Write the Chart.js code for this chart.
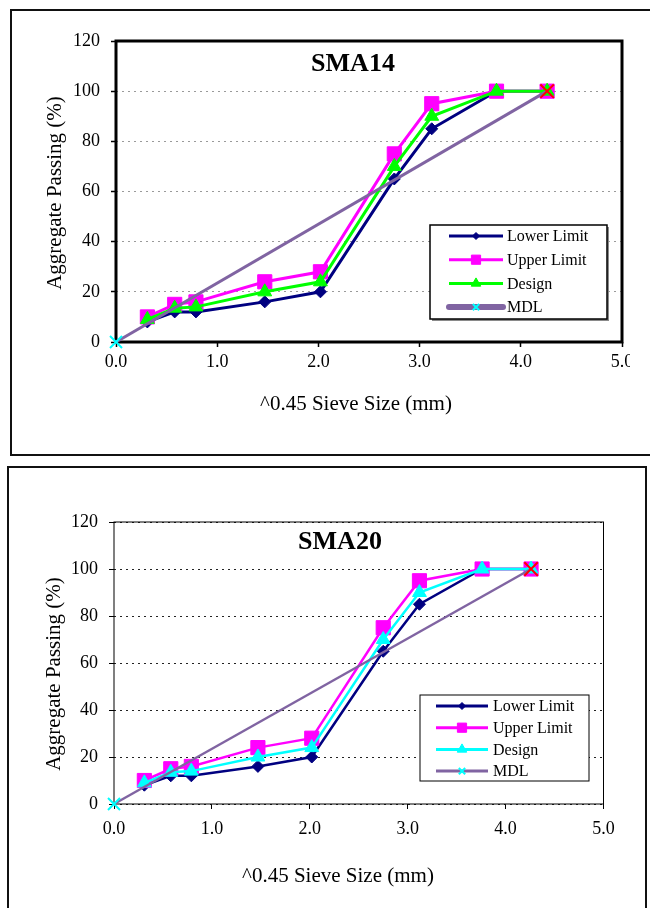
<!DOCTYPE html>
<html>
<head>
<meta charset="utf-8">
<script src="https://cdn.jsdelivr.net/npm/chart.js@4.4.0/dist/chart.umd.min.js"></script>
<style>
  html, body { margin: 0; padding: 0; background: #fff; overflow: hidden; }
  body { width: 650px; height: 908px; position: relative; }
  .frame { position: absolute; border: 2px solid #111; box-sizing: border-box; }
  #frame1 { left: 10px; top: 9px; width: 700px; height: 447px; }
  #frame2 { left: 7px; top: 466px; width: 640px; height: 470px; }
  canvas { position: absolute; left: 0; }
  #c1 { top: 0; }
  #c2 { top: 460px; }
  /* the source picture is cropped just past the right edge of the top plot */
  #crop1 { position: absolute; left: 630px; top: 12px; width: 30px; height: 441px; background: #fff; }
</style>
</head>
<body>
<div class="frame" id="frame1"></div>
<div class="frame" id="frame2"></div>
<canvas id="c1" width="640" height="455"></canvas>
<canvas id="c2" width="650" height="448"></canvas>
<div id="crop1"></div>
<script>
// sieve sizes raised to the 0.45 power
const sieveX = [0.31, 0.58, 0.79, 1.47, 2.02, 2.75, 3.12, 3.76, 4.26];
const lowerLimit = [8, 12, 12, 16, 20, 65, 85, 100, 100];
const upperLimit = [10, 15, 16, 24, 28, 75, 95, 100, 100];
const designGrading = [9, 13.5, 14, 20, 24, 70, 90, 100, 100];
// maximum density line, origin to nominal max size
const mdlX = [0, 4.26];
const mdlY = [0, 100];

const xTickValues = [0, 1, 2, 3, 4, 5];
const xTickLabels = ['0.0', '1.0', '2.0', '3.0', '4.0', '5.0'];
const yTickValues = [0, 20, 40, 60, 80, 100, 120];
const seriesNames = ['Lower Limit', 'Upper Limit', 'Design', 'MDL'];

const FONT = '"Liberation Serif", "Times New Roman", serif';

function pts(xs, ys) {
  return xs.map((x, i) => ({ x: x, y: ys[i] }));
}

// plot frame on all four sides, under the data
const framePlugin = {
  id: 'plotFrame',
  beforeDatasetsDraw(chart, args, o) {
    const a = chart.chartArea;
    const ctx = chart.ctx;
    ctx.save();
    ctx.strokeStyle = '#000';
    ctx.lineWidth = o.width;
    ctx.strokeRect(a.left, a.top, a.right - a.left, a.bottom - a.top);
    ctx.restore();
  }
};

// chart title and axis titles
const textPlugin = {
  id: 'texts',
  afterDraw(chart, args, o) {
    const ctx = chart.ctx;
    ctx.save();
    ctx.fillStyle = '#000';
    ctx.textAlign = 'center';
    ctx.textBaseline = 'middle';
    ctx.font = 'bold 26px ' + FONT;
    ctx.fillText(o.title, o.titlePos[0], o.titlePos[1]);
    ctx.font = '21px ' + FONT;
    ctx.fillText('^0.45 Sieve Size (mm)', o.xTitlePos[0], o.xTitlePos[1]);
    ctx.translate(o.yTitlePos[0], o.yTitlePos[1]);
    ctx.rotate(-Math.PI / 2);
    ctx.fillText('Aggregate Passing (%)', 0, 0);
    ctx.restore();
  }
};

// boxed legend with line + marker samples
const legendPlugin = {
  id: 'boxLegend',
  afterDraw(chart, args, o) {
    const ctx = chart.ctx;
    const b = o.box;
    ctx.save();
    if (o.shadow) {
      ctx.fillStyle = '#8a8a8a';
      ctx.fillRect(b.x + 2, b.y + 2, b.w, b.h);
    }
    ctx.fillStyle = '#fff';
    ctx.fillRect(b.x, b.y, b.w, b.h);
    ctx.strokeStyle = '#000';
    ctx.lineWidth = o.border;
    ctx.strokeRect(b.x, b.y, b.w, b.h);

    chart.data.datasets.forEach((ds, i) => {
      const y = b.y + o.row0 + i * o.gap;
      ctx.strokeStyle = ds.borderColor;
      ctx.lineWidth = i === 3 ? o.mdlWidth : o.lineWidth;
      ctx.lineCap = i === 3 && o.mdlWidth > 4 ? 'round' : 'butt';
      ctx.beginPath();
      ctx.moveTo(b.x + o.l0, y);
      ctx.lineTo(b.x + o.l1, y);
      ctx.stroke();

      const mc = Array.isArray(ds.pointBorderColor) ? ds.pointBorderColor[0] : ds.pointBorderColor;
      ctx.fillStyle = mc;
      ctx.strokeStyle = mc;
      ctx.lineWidth = i === 3 ? 2 : 1;
      ctx.lineCap = 'butt';
      Chart.helpers.drawPoint(ctx, {
        pointStyle: ds.pointStyle,
        radius: o.radii[i],
        rotation: 0,
        borderWidth: i === 3 ? 2 : 1
      }, b.x + o.mx, y);

      ctx.fillStyle = '#000';
      ctx.font = '16px ' + FONT;
      ctx.textAlign = 'left';
      ctx.textBaseline = 'middle';
      ctx.fillText(ds.label, b.x + o.tx, y + 1);
    });
    ctx.restore();
  }
};

function makeChart(id, s) {
  const lw = s.lineWidth;
  const datasets = [
    {
      label: seriesNames[0], data: pts(sieveX, lowerLimit),
      borderColor: '#000080', backgroundColor: '#000080',
      pointStyle: 'rectRot', pointRadius: 6, pointBorderColor: '#000080', pointBackgroundColor: '#000080',
      borderWidth: lw, order: 4
    },
    {
      label: seriesNames[1], data: pts(sieveX, upperLimit),
      borderColor: '#ff00ff', backgroundColor: '#ff00ff',
      pointStyle: 'rect', pointRadius: 10, pointBorderColor: '#ff00ff', pointBackgroundColor: '#ff00ff',
      borderWidth: lw, order: 3
    },
    {
      label: seriesNames[2], data: pts(sieveX, designGrading),
      borderColor: s.designColor, backgroundColor: s.designColor,
      pointStyle: 'triangle', pointRadius: 8, pointBorderColor: s.designColor, pointBackgroundColor: s.designColor,
      borderWidth: lw, order: 2
    },
    {
      label: seriesNames[3], data: pts(mdlX, mdlY),
      borderColor: '#8064a2', backgroundColor: '#00ffff',
      pointStyle: 'crossRot', pointRadius: [8.5, 9.5],
      pointBorderColor: ['#00ffff', '#ff0000'], pointBorderWidth: 2,
      borderWidth: lw, order: 1
    }
  ];
  datasets.forEach(d => { d.clip = false; d.tension = 0; d.pointHoverRadius = d.pointRadius; if (d.pointBorderWidth === undefined) d.pointBorderWidth = 1; });

  return new Chart(document.getElementById(id), {
    type: 'line',
    data: { datasets: datasets },
    options: {
      responsive: false,
      animation: false,
      events: [],
      layout: { padding: s.padding },
      scales: {
        x: {
          type: 'linear', min: 0, max: 5,
          afterFit(scale) { scale.height = s.xHeight; scale.paddingRight = 0; scale.paddingLeft = 0; },
          afterBuildTicks(scale) { scale.ticks = xTickValues.map(v => ({ value: v })); },
          ticks: {
            callback: v => xTickLabels[xTickValues.indexOf(v)],
            color: '#000', font: { family: FONT, size: 18 }, padding: s.xTickPad, maxRotation: 0, autoSkip: false
          },
          grid: { drawOnChartArea: false, drawTicks: true, tickLength: 5, tickColor: '#000', tickWidth: s.tickWidth },
          border: { display: false }
        },
        y: {
          type: 'linear', min: 0, max: 120,
          afterFit(scale) { scale.width = s.yWidth; },
          afterBuildTicks(scale) { scale.ticks = yTickValues.map(v => ({ value: v })); },
          ticks: { color: '#000', font: { family: FONT, size: 18 }, padding: 11, autoSkip: false },
          grid: { color: s.gridColor, lineWidth: 1, tickLength: 5, tickColor: '#000', tickWidth: s.tickWidth, tickBorderDash: [] },
          border: { display: false, dash: [2, 4] }
        }
      },
      plugins: {
        legend: { display: false },
        tooltip: { enabled: false },
        plotFrame: { width: s.frameWidth },
        texts: { title: s.title, titlePos: s.titlePos, xTitlePos: s.xTitlePos, yTitlePos: s.yTitlePos },
        boxLegend: s.legend
      }
    },
    plugins: [framePlugin, textPlugin, legendPlugin]
  });
}

makeChart('c1', {
  designColor: '#00ff00', lineWidth: 3, frameWidth: 3, gridColor: '#9a9a9a', tickWidth: 1.5,
  yWidth: 116, xHeight: 50, xTickPad: 4,
  padding: { top: 41, right: 18, bottom: 63, left: 0 },
  title: 'SMA14', titlePos: [353, 64], xTitlePos: [356, 404], yTitlePos: [55, 193],
  legend: {
    box: { x: 430, y: 225, w: 177, h: 94 }, row0: 11, gap: 23.7, l0: 19, l1: 73, mx: 46, tx: 77,
    shadow: true, border: 1.5, lineWidth: 3, mdlWidth: 6, radii: [3.5, 6.5, 5.5, 4.5]
  }
});

makeChart('c2', {
  designColor: '#00ffff', lineWidth: 2.5, frameWidth: 1, gridColor: '#222', tickWidth: 1,
  yWidth: 114, xHeight: 50, xTickPad: 9,
  padding: { top: 62, right: 46.5, bottom: 54, left: 0 },
  title: 'SMA20', titlePos: [340, 82], xTitlePos: [338, 416], yTitlePos: [54, 214],
  legend: {
    box: { x: 420, y: 235, w: 169, h: 86 }, row0: 11, gap: 21.7, l0: 16, l1: 68, mx: 42, tx: 73,
    shadow: false, border: 1, lineWidth: 3, mdlWidth: 3, radii: [3.5, 6.5, 5.5, 4.5]
  }
});
</script>
</body>
</html>
